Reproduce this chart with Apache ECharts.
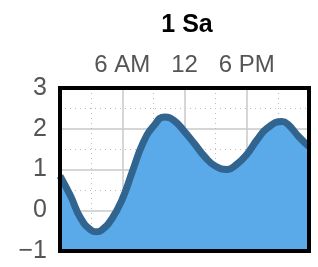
<!DOCTYPE html>
<html>
<head>
<meta charset="utf-8">
<script src="https://cdn.jsdelivr.net/npm/echarts@6/dist/echarts.min.js"></script>
<style>
  html, body { margin: 0; padding: 0; background: #fff; }
  #chart { width: 318px; height: 267px; }
</style>
</head>
<body>
<div id="chart"></div>
<script>
// hour of the day and tide height (turning points added)
const hours = [0, 1, 2, 3, 3.5, 4, 5, 6, 7, 8, 9, 10.1, 11, 12, 13, 14, 15, 16.1, 17, 18, 19, 20, 21.4, 22, 23, 24]
const tide = [0.84, 0.36, -0.2, -0.49, -0.53, -0.49, -0.21, 0.27, 0.97, 1.65, 2.06, 2.29, 2.2, 1.93, 1.62, 1.3, 1.08, 1.0, 1.12, 1.37, 1.73, 2.02, 2.18, 2.1, 1.81, 1.56]
const hourLabels = { 6: '6 AM', 12: '12', 18: '6 PM' }
const titleText = '1 Sa'

const chart = echarts.init(document.getElementById('chart'))

chart.setOption({
  animation: false,
  textStyle: { fontFamily: 'Liberation Sans' },
  title: {
    text: titleText,
    left: 182,
    top: 8,
    textAlign: 'center',
    textStyle: { fontSize: 25, fontWeight: 'bold', color: '#000', fontFamily: 'Liberation Sans' }
  },
  grid: {
    left: 60,
    right: 9,
    top: 88,
    bottom: 16,
    show: true,
    borderColor: '#000',
    borderWidth: 4,
    z: 5
  },
  xAxis: {
    type: 'value',
    position: 'top',
    min: 0,
    max: 24,
    interval: 6,
    axisLine: { show: false },
    axisTick: { show: false },
    axisLabel: {
      color: '#555',
      fontSize: 24,
      margin: 11,
      formatter: function(v) {
        return hourLabels[v] || ''
      }
    },
    splitLine: { lineStyle: { color: '#c8c8c8', width: 1.5 } },
    minorTick: { show: false, splitNumber: 2 },
    minorSplitLine: { show: true, lineStyle: { color: '#bbb', type: [1, 4], width: 1 } }
  },
  yAxis: {
    type: 'value',
    min: -1,
    max: 3,
    interval: 1,
    axisLine: { show: false },
    axisTick: { show: false },
    axisLabel: {
      color: '#555',
      fontSize: 25,
      margin: 13,
      formatter: function(v) {
        return v < 0 ? '\u2212' + Math.abs(v) : String(v)
      }
    },
    splitLine: { lineStyle: { color: '#c8c8c8', width: 1.5 } },
    minorTick: { show: false, splitNumber: 2 },
    minorSplitLine: { show: true, lineStyle: { color: '#bbb', type: [1, 4], width: 1 } }
  },
  series: [{
    type: 'line',
    data: hours.map((h, i) => [h, tide[i]]),
    smooth: 0.5,
    symbol: 'none',
    clip: true,
    lineStyle: { color: '#326490', width: 7 },
    areaStyle: { color: '#5aa9e8', opacity: 1, origin: 'start' },
    z: 3
  }]
})
</script>
</body>
</html>
